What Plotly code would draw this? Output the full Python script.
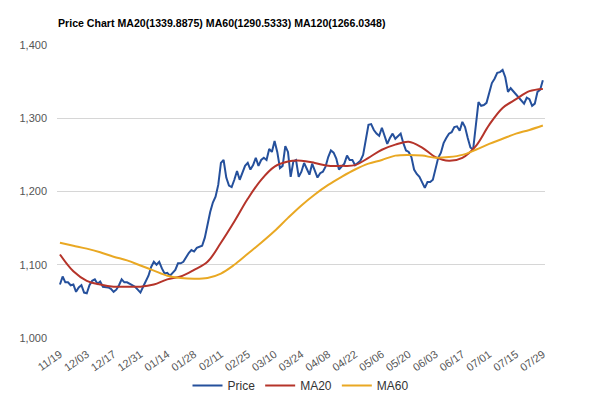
import plotly.graph_objects as go

# ---- data ----
tick_labels = ["11/19", "12/03", "12/17", "12/31", "01/14", "01/28", "02/11", "02/25",
               "03/10", "03/24", "04/08", "04/22", "05/06", "05/20", "06/03", "06/17",
               "07/01", "07/15", "07/29"]

price = [
    1073, 1084, 1076, 1076, 1072, 1073, 1063, 1069, 1072, 1062,
    1061, 1072, 1078, 1080, 1074, 1077, 1070, 1070, 1069, 1067,
    1063, 1066, 1072, 1080, 1076, 1076, 1074, 1073, 1070, 1066,
    1062, 1070, 1077, 1085, 1097, 1104, 1100, 1104, 1095, 1088,
    1089, 1085, 1089, 1093, 1102, 1102, 1104, 1110, 1116, 1120,
    1118, 1123, 1125, 1126, 1137, 1157, 1172, 1185, 1193, 1209,
    1239, 1243, 1219, 1208, 1206, 1216, 1228, 1216, 1227, 1235,
    1239, 1230, 1236, 1246, 1235, 1243, 1246, 1243, 1258, 1254,
    1269, 1254, 1232, 1235, 1262, 1254, 1220, 1241, 1243, 1220,
    1227, 1239, 1231, 1223, 1238, 1228, 1219, 1225, 1227, 1234,
    1247, 1256, 1253, 1245, 1230, 1234, 1238, 1249, 1243, 1243,
    1236, 1239, 1242, 1250, 1270, 1291, 1292, 1284, 1279, 1276,
    1287, 1277, 1265, 1273, 1279, 1272, 1275, 1279, 1266, 1256,
    1254, 1247, 1230, 1224, 1220, 1213, 1205, 1213, 1213, 1216,
    1230, 1246, 1253, 1266, 1273, 1279, 1281, 1288, 1289, 1283,
    1295, 1288, 1273, 1260, 1257, 1287, 1322, 1317, 1318, 1321,
    1335, 1348, 1354, 1362, 1363, 1366, 1356, 1336, 1341, 1337,
    1333, 1329, 1325, 1320, 1328, 1326, 1317, 1320, 1336, 1339,
    1352,
]
price_day = list(range(len(price)))

ma_day = [0, 5, 10, 15, 20, 25, 30, 35, 40, 45, 50, 55, 60, 65, 70, 75, 80, 85, 90,
          95, 100, 105, 110, 115, 120, 125, 130, 135, 140, 145, 150, 155, 160, 165,
          170, 175, 180]
ma20 = [1114, 1091, 1078, 1073, 1070, 1070, 1070, 1073, 1080, 1084, 1093, 1104, 1130,
        1159, 1190, 1216, 1234, 1241, 1242, 1239, 1235, 1235, 1236, 1246, 1257, 1264,
        1268, 1260, 1247, 1242, 1246, 1262, 1291, 1314, 1326, 1337, 1340]
ma60 = [1130, 1126, 1122, 1117, 1111, 1106, 1099, 1092, 1085, 1082, 1081, 1082, 1088,
        1100, 1115, 1130, 1146, 1164, 1181, 1196, 1209, 1220, 1230, 1238, 1243, 1249,
        1250, 1249, 1246, 1247, 1250, 1257, 1265, 1272, 1279, 1284, 1290]

title_text = "Price Chart MA20(1339.8875) MA60(1290.5333) MA120(1266.0348)"

# ---- figure ----
# (the page body has an 8px default margin, so the figure is 592x391)
W, H = 592, 391
FONT = "Liberation Sans, Arial, sans-serif"
fig = go.Figure()
fig.add_trace(go.Scatter(x=price_day, y=price, mode="lines", name="Price",
                         line=dict(color="#25509c", width=2)))
fig.add_trace(go.Scatter(x=ma_day, y=ma20, mode="lines", name="MA20",
                         line=dict(color="#b5342a", width=2, shape="spline", smoothing=1.0)))
fig.add_trace(go.Scatter(x=ma_day, y=ma60, mode="lines", name="MA60",
                         line=dict(color="#e9a823", width=2, shape="spline", smoothing=1.0)))

fig.update_layout(
    width=W, height=H,
    margin=dict(l=49, r=55, t=37, b=60.5, autoexpand=False),
    paper_bgcolor="white", plot_bgcolor="white",
    font=dict(family=FONT, size=11, color="#444444"),
    title=dict(text=title_text, x=50 / W, xanchor="left", xref="container",
               y=1 - 15 / H, yanchor="middle", yref="container",
               font=dict(family=FONT, size=10.6, color="#000000", weight="bold")),
    showlegend=True,
    legend=dict(orientation="h", x=0.5, xanchor="center", y=-0.162, yanchor="middle",
                font=dict(family=FONT, size=12, color="#333333"),
                itemwidth=30, traceorder="normal"),
)
fig.update_xaxes(range=[-1.1, 180.8], tickmode="array",
                 tickvals=[i * 10 for i in range(len(tick_labels))],
                 ticktext=tick_labels, tickangle=-35, showgrid=False,
                 zeroline=False, showline=False, automargin=False,
                 ticklabelstandoff=7,
                 tickfont=dict(family=FONT, size=11, color="#555555"))
fig.update_yaxes(range=[1000, 1400], tickvals=[1000, 1100, 1200, 1300, 1400],
                 tickformat=",d", showgrid=True, gridcolor="#d6d6d6", gridwidth=1,
                 zeroline=False, showline=False, ticks="", ticklabelstandoff=9,
                 automargin=False,
                 tickfont=dict(family=FONT, size=11, color="#555555"))

fig.write_html("out.html")
